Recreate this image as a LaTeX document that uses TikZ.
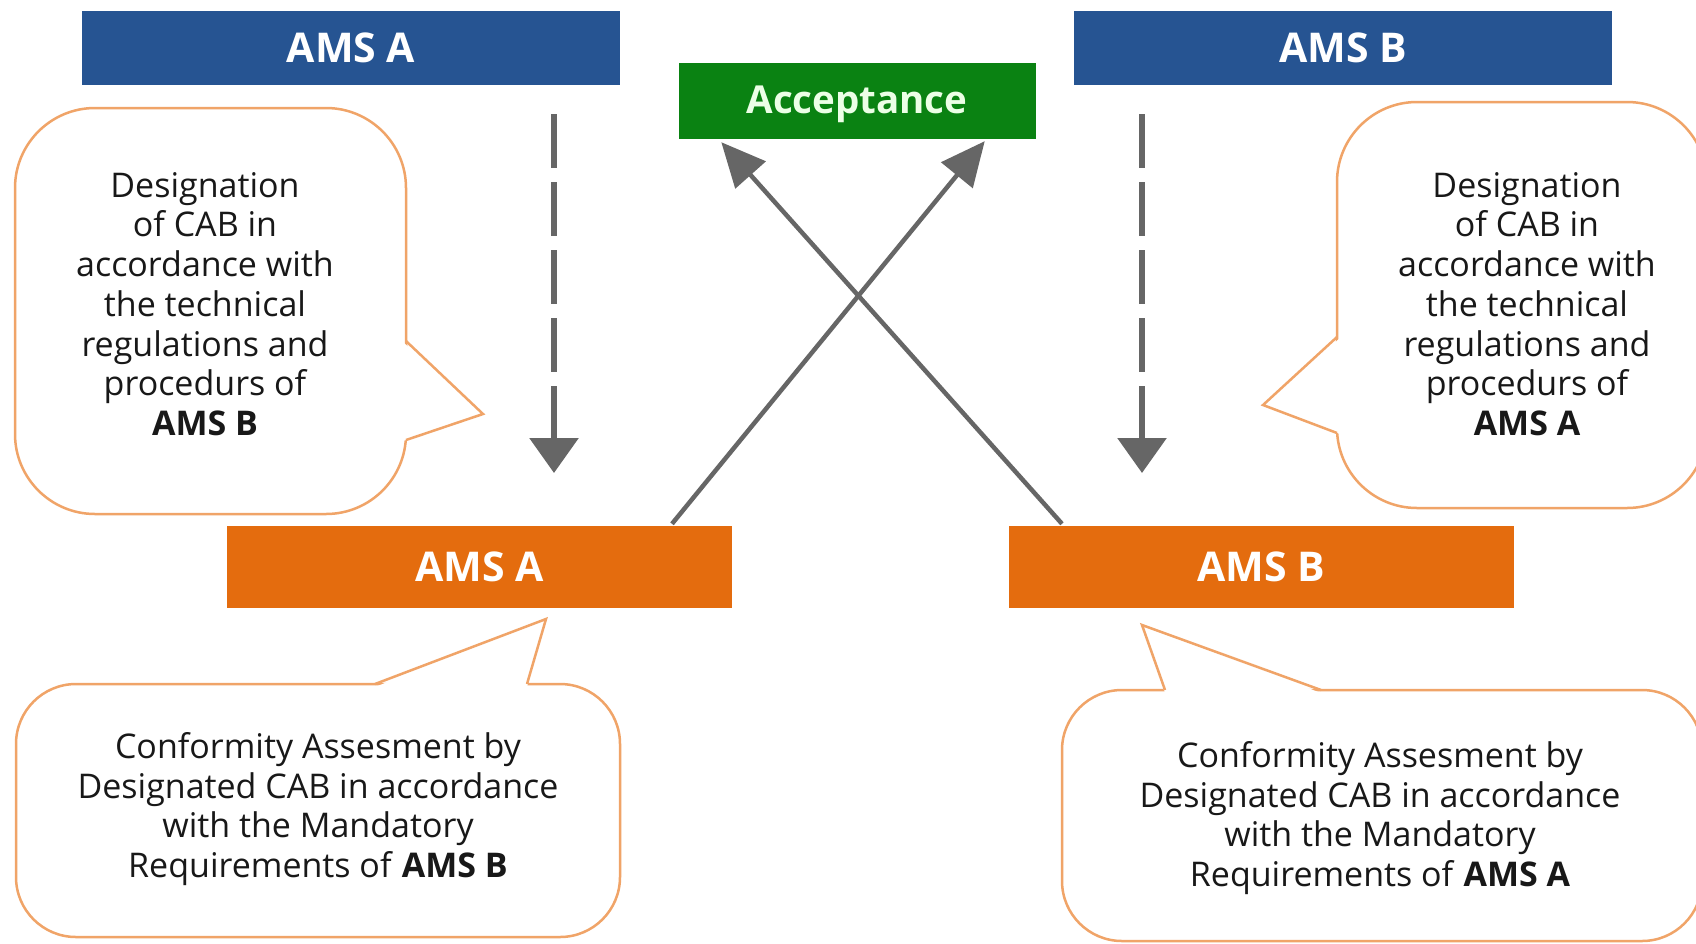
\documentclass[tikz,border=0pt]{standalone}
\usepackage{fontspec}
\setmainfont{Open Sans}
\usetikzlibrary{arrows.meta}
\definecolor{amsblue}{RGB}{38,84,146}
\definecolor{accgreen}{RGB}{10,130,18}
\definecolor{amsorange}{RGB}{228,108,14}
\definecolor{callorange}{RGB}{240,164,104}
\definecolor{arrowgray}{RGB}{102,102,102}
\definecolor{txt}{RGB}{24,24,24}
\definecolor{acctxt}{RGB}{236,255,230}
\begin{document}
\begin{tikzpicture}[x=1pt,y=-1pt,
  titlebox/.style={rectangle, inner sep=0pt, text=white, font=\fontsize{41}{49}\selectfont\bfseries},
  callbox/.style={rectangle, draw=callorange, line width=2.5pt, fill=white, inner sep=0pt},
  calltext/.style={align=center, text=txt, inner sep=0pt, font=\fontsize{34}{39.7}\selectfont},
  ptr/.style={draw=callorange, line width=2.5pt, line join=miter},
  dasharrow/.style={draw=arrowgray, line width=6pt, dash pattern=on 54pt off 14pt, -{Triangle[length=35pt,width=48pt]}},
  crossarrow/.style={draw=arrowgray, line width=4.5pt, -{Triangle[length=44pt,width=40pt]}}
]
\useasboundingbox (0,0) rectangle (1696,943);
\fill[white] (0,0) rectangle (1696,943);

% title boxes
\node[titlebox, fill=amsblue, minimum width=538pt, minimum height=74pt] (bA) at (351,48) {AMS A};
\node[titlebox, fill=amsblue, minimum width=538pt, minimum height=74pt] (bB) at (1343,48) {AMS B};
\node[titlebox, fill=accgreen, text=acctxt, minimum width=357pt, minimum height=76pt, text depth=3pt, font=\fontsize{38.5}{46}\selectfont\bfseries] (acc) at (857,101) {Acceptance};
\node[titlebox, fill=amsorange, minimum width=505pt, minimum height=82pt] (oA) at (479.5,567) {AMS A};
\node[titlebox, fill=amsorange, minimum width=505pt, minimum height=82pt] (oB) at (1261.5,567) {AMS B};

% callout: top left
\node[callbox, rounded corners=80pt, minimum width=391pt, minimum height=406pt] (c1) at (210.5,311) {};
\fill[white] (403,342) -- (483,414) -- (403,441) -- cycle;
\draw[ptr] (406,341) -- (483,414) -- (406,440);
\node[calltext] (c1t) at (205,304) {Designation\\of CAB in\\accordance with\\the technical\\regulations and\\procedurs of\\\textbf{AMS B}};

% callout: top right (runs past the right border)
\node[callbox, rounded corners=80pt, minimum width=370pt, minimum height=406pt] (c2) at (1522,305) {};
\fill[white] (1340,338) -- (1263,405) -- (1340,434) -- cycle;
\draw[ptr] (1337,337) -- (1263,405) -- (1337,433);
\node[calltext] (c2t) at (1527,304) {Designation\\of CAB in\\accordance with\\the technical\\regulations and\\procedurs of\\\textbf{AMS A}};

% callout: bottom left
\node[callbox, rounded corners=60pt, minimum width=604pt, minimum height=253pt] (c3) at (318,810.5) {};
\fill[white] (375,687) -- (546,619) -- (527,687) -- cycle;
\draw[ptr] (375,684) -- (546,619) -- (527,684);
\node[calltext] (c3t) at (318,809) {Conformity Assesment by\\Designated CAB in accordance\\with the Mandatory\\Requirements of \textbf{AMS B}};

% callout: bottom right (runs past the right border)
\node[callbox, rounded corners=60pt, minimum width=640pt, minimum height=251pt] (c4) at (1382,815.5) {};
\fill[white] (1165,693) -- (1142,625) -- (1321,693) -- cycle;
\draw[ptr] (1165,690) -- (1142,625) -- (1321,690);
\node[calltext] (c4t) at (1380,818) {Conformity Assesment by\\Designated CAB in accordance\\with the Mandatory\\Requirements of \textbf{AMS A}};

% dashed designation arrows
\coordinate (dA) at (554,473);
\coordinate (dB) at (1142,473);
\draw[dasharrow] ([xshift=203pt,yshift=-29pt]bA.south) -- (dA);
\draw[dasharrow] ([xshift=-201pt,yshift=-29pt]bB.south) -- (dB);

% crossing acceptance arrows
\draw[crossarrow] ([xshift=192.5pt,yshift=2pt]oA.north) -- ([xshift=-51pt,yshift=-2pt]acc.south east);
\draw[crossarrow] ([xshift=-199.5pt,yshift=2pt]oB.north) -- ([xshift=43pt,yshift=-3pt]acc.south west);
\end{tikzpicture}
\end{document}
